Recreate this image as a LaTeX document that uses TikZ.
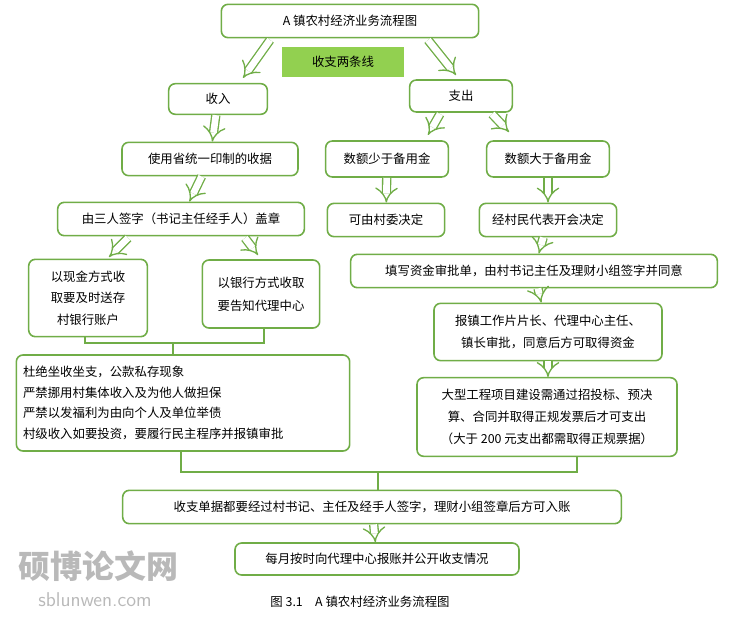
\documentclass[tikz,border=0pt]{standalone}
\usepackage{fontspec}
\setmainfont{Noto Sans CJK SC}
\usetikzlibrary{arrows.meta}
\definecolor{lgreen}{RGB}{112,173,71}
\definecolor{fgreen}{RGB}{146,208,80}
\begin{document}
\begin{tikzpicture}[x=0.75pt,y=-0.75pt,font=\fontsize{9.3pt}{14pt}\selectfont]
\useasboundingbox (0,0) rectangle (752,620);
\begin{scope}[every node/.style={draw=lgreen,line width=1.2pt,rounded corners=5pt,fill=white,align=center,inner sep=2pt}]
    \node (title) at (350,21) [minimum width=193pt,minimum height=25pt] {A 镇农村经济业务流程图};
    \node (green) at (343,62) [draw=none,fill=fgreen,rounded corners=0pt,minimum width=91pt,minimum height=23pt] {收支两条线};
    \node (in) at (218,99) [minimum width=74pt,minimum height=23pt] {收入};
    \node (out) at (461,96) [minimum width=77pt,minimum height=24pt] {支出};
    \node (receipt) at (210,159) [minimum width=132pt,minimum height=25pt] {使用省统一印制的收据};
    \node (less) at (387,159) [minimum width=92pt,minimum height=27pt] {数额少于备用金};
    \node (more) at (548,159) [minimum width=92pt,minimum height=27pt] {数额大于备用金};
    \node (sign) at (181,219) [minimum width=185pt,minimum height=25pt] {由三人签字（书记主任经手人）盖章};
    \node (cmte) at (386,220) [minimum width=88pt,minimum height=25pt] {可由村委决定};
    \node (meet) at (548,220) [minimum width=103pt,minimum height=25pt] {经村民代表开会决定};
    \node (cash) at (88,298) [minimum width=89pt,minimum height=58pt,font=\fontsize{9.3pt}{16pt}\selectfont] {以现金方式收\\取要及时送存\\村银行账户};
    \node (bank) at (261,294) [minimum width=88pt,minimum height=51pt,font=\fontsize{9.3pt}{17pt}\selectfont] {以银行方式收取\\要告知代理中心};
    \node (form) at (534,271) [minimum width=275pt,minimum height=25pt] {填写资金审批单，由村书记主任及理财小组签字并同意};
    \node (report) at (548,332) [minimum width=171pt,minimum height=43pt,font=\fontsize{9.3pt}{17pt}\selectfont] {报镇工作片片长、代理中心主任、\\镇长审批，同意后方可取得资金};
    \node (rules) at (183,403) [minimum width=250pt,minimum height=72pt,align=left,text width=240pt,font=\fontsize{9.3pt}{15.5pt}\selectfont] {杜绝坐收坐支，公款私存现象\\严禁挪用村集体收入及为他人做担保\\严禁以发福利为由向个人及单位举债\\村级收入如要投资，要履行民主程序并报镇审批};
    \node (big) at (547,417) [minimum width=195pt,minimum height=59pt,font=\fontsize{9.3pt}{16.5pt}\selectfont] {大型工程项目建设需通过招投标、预决\\算、合同并取得正规发票后才可支出\\（大于 200 元支出都需取得正规票据）};
    \node (voucher) at (372,507) [minimum width=374pt,minimum height=25pt] {收支单据都要经过村书记、主任及经手人签字，理财小组签章后方可入账};
    \node (monthly) at (377,559) [minimum width=213pt,minimum height=24pt] {每月按时向代理中心报账并公开收支情况};
\end{scope}

\begin{scope}[every path/.style={draw=lgreen,line width=1pt,double=white,double distance=5pt,-{Implies}}]
    \path (270,40) -- (243,78);
    \path (428,40) -- (456,75);
    \path (in) -- (receipt);
    \path (440,114) -- (428,135);
    \path (492,114) -- (509,132);
    \path (receipt) -- (sign);
    \path (less) -- (cmte);
    \path (more) -- (meet);
    \path (128,238) -- (109,257);
    \path (245,238) -- (258,255);
    \path (meet) -- (form);
    \path (form) -- (report);
    \path (report) -- (548,377);
    \path (voucher) -- (monthly);
\end{scope}

\begin{scope}[draw=lgreen,line width=1.6pt]
    \draw (cash.south -| 85,0) |- (173,343) -| (bank.south -| 264,0);
    \draw (173,343) -- (rules.north -| 173,0);
    \draw (rules.south -| 181,0) |- (378,472) -| (big.south -| 577,0);
    \draw (378,472) -- (voucher.north -| 378,0);
\end{scope}

\node (wm) at (98,566) [text=gray!55,font=\fontsize{24pt}{24pt}\selectfont\bfseries] {硕博论文网};
\node (wmurl) at (95,600) [text=gray!55,font=\sffamily\fontsize{15pt}{15pt}\selectfont] {sblunwen.com};
\node (caption) at (360,602) {图 3.1\quad A 镇农村经济业务流程图};
\end{tikzpicture}
\end{document}
